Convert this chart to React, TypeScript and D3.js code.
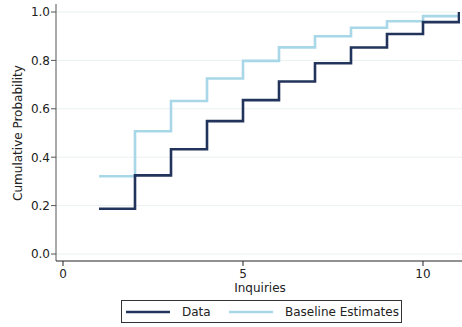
import React from "react";
import * as d3 from "d3";

// Number of inquiries at which each step begins
const inquiries = [1, 2, 3, 4, 5, 6, 7, 8, 9, 10, 11];
// Observed cumulative probability
const dataValues = [0.187, 0.325, 0.433, 0.549, 0.636, 0.713, 0.788, 0.853, 0.909, 0.958, 1.0];
// Model-implied cumulative probability
const baselineValues = [0.321, 0.507, 0.632, 0.725, 0.798, 0.854, 0.9, 0.935, 0.962, 0.983, 0.983];

const xTicks = [0, 5, 10];
const yTicks = [0, 0.2, 0.4, 0.6, 0.8, 1.0];

const seriesNames = ["Data", "Baseline Estimates"];
const seriesColors = ["#22345c", "#a8d8e7"];

const W = 462;
const H = 327;
const FONT = "DejaVu Sans, sans-serif";
const FS = 12;

export default function App() {
  const x = d3.scaleLinear().domain([0, 11]).range([63, 459]);
  const y = d3.scaleLinear().domain([0, 1]).range([254, 12]);

  const line = d3
    .line<[number, number]>()
    .x((d) => x(d[0]))
    .y((d) => y(d[1]))
    .curve(d3.curveStepAfter);

  const dataPts: [number, number][] = inquiries.map((k, i) => [k, dataValues[i]]);
  const basePts: [number, number][] = inquiries.map((k, i) => [k, baselineValues[i]]);

  const axisLeft = 56;
  const axisBottom = 261;
  const plotTop = 4;
  const plotRight = 462;

  return (
    <svg
      width={W}
      height={H}
      style={{ position: "absolute", left: 0, top: 0, background: "#fff" }}
      fontFamily={FONT}
    >
      <defs>
        <clipPath id="plot-clip">
          <rect x={axisLeft} y={plotTop} width={plotRight - axisLeft - 2} height={axisBottom - plotTop} />
        </clipPath>
      </defs>

      {/* horizontal gridlines */}
      {yTicks.map((t) => (
        <line
          key={`g${t}`}
          x1={axisLeft}
          x2={plotRight}
          y1={y(t)}
          y2={y(t)}
          stroke="#eaf1f1"
          strokeWidth={1}
        />
      ))}

      {/* step lines */}
      <g clipPath="url(#plot-clip)">
        <path d={line(basePts) ?? ""} fill="none" stroke={seriesColors[1]} strokeWidth={2.6} />
        <path d={line(dataPts) ?? ""} fill="none" stroke={seriesColors[0]} strokeWidth={2.6} />
      </g>

      {/* y axis */}
      <line x1={axisLeft} x2={axisLeft} y1={plotTop} y2={axisBottom} stroke="#555" strokeWidth={1} />
      {yTicks.map((t) => (
        <g key={`y${t}`}>
          <line x1={axisLeft - 5} x2={axisLeft} y1={y(t)} y2={y(t)} stroke="#555" strokeWidth={1} />
          <text x={axisLeft - 6} y={y(t)} dy="0.36em" textAnchor="end" fontSize={FS} fill="#222">
            {d3.format(".1f")(t)}
          </text>
        </g>
      ))}
      <text
        transform={`translate(22,${(y(0) + y(1)) / 2}) rotate(-90)`}
        textAnchor="middle"
        fontSize={FS}
        fill="#222"
      >
        Cumulative Probability
      </text>

      {/* x axis */}
      <line x1={axisLeft} x2={plotRight} y1={axisBottom} y2={axisBottom} stroke="#222" strokeWidth={1} />
      {xTicks.map((t) => (
        <g key={`x${t}`}>
          <line x1={x(t)} x2={x(t)} y1={axisBottom} y2={axisBottom + 5} stroke="#222" strokeWidth={1} />
          <text x={x(t)} y={278} textAnchor="middle" fontSize={FS} fill="#222">
            {t}
          </text>
        </g>
      ))}
      <text x={(axisLeft + plotRight) / 2 + 1} y={292} textAnchor="middle" fontSize={FS} fill="#222">
        Inquiries
      </text>

      {/* legend */}
      <rect x={121.5} y={300.5} width={280} height={22} fill="#fff" stroke="#333" strokeWidth={1} />
      <line x1={126} x2={170} y1={312} y2={312} stroke={seriesColors[0]} strokeWidth={2.6} />
      <text x={182} y={316} fontSize={FS} fill="#222">
        {seriesNames[0]}
      </text>
      <line x1={229} x2={273} y1={312} y2={312} stroke={seriesColors[1]} strokeWidth={2.6} />
      <text x={285} y={316} fontSize={FS} fill="#222">
        {seriesNames[1]}
      </text>
    </svg>
  );
}
